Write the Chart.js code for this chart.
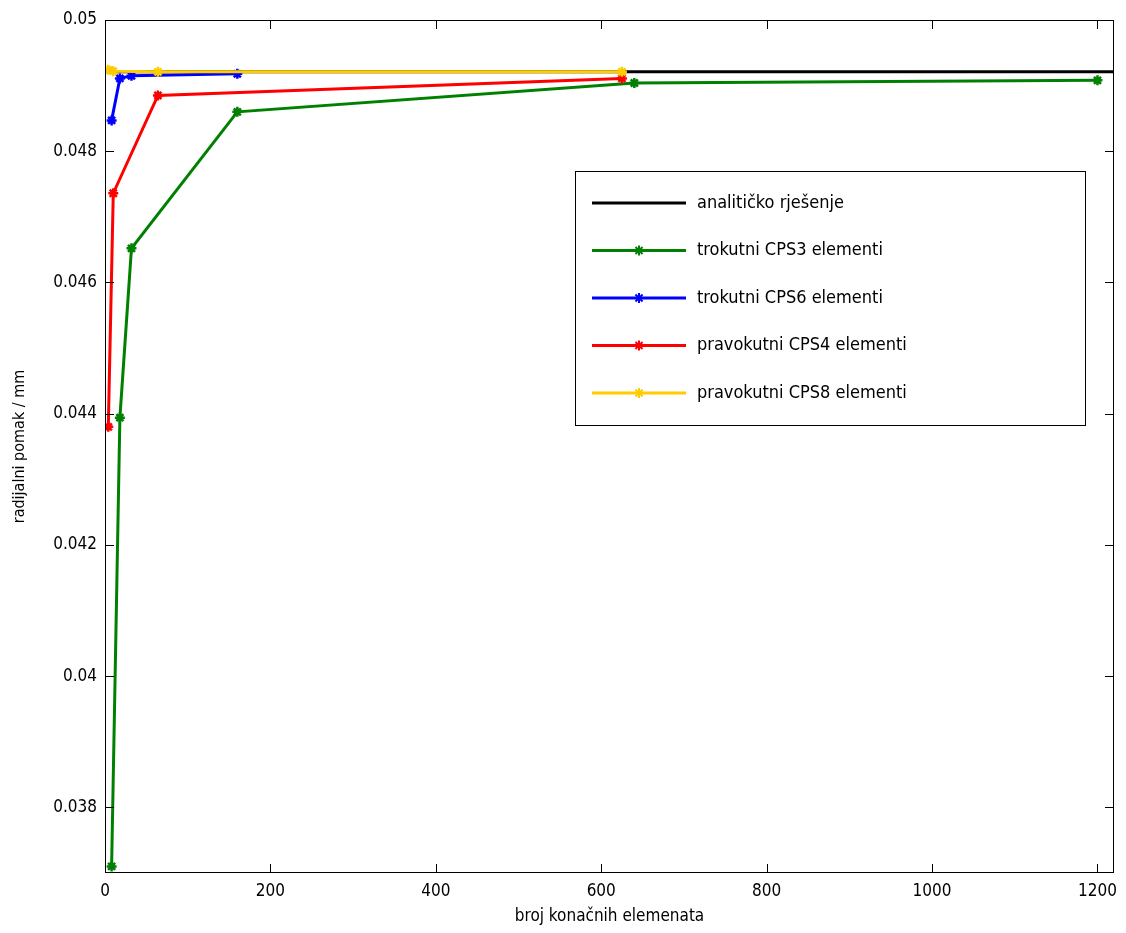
<!DOCTYPE html>
<html>
<head>
<meta charset="utf-8">
<script src="https://cdn.jsdelivr.net/npm/chart.js@4"></script>
<style>
  body { margin: 0; background: #fff; }
  #wrap { width: 1126px; height: 933px; }
</style>
</head>
<body>
<div id="wrap"><canvas id="pomakChart" width="1126" height="933"></canvas></div>
<script>
const FONT = '"Liberation Sans Narrow", "DejaVu Sans Condensed", "Liberation Sans", sans-serif';

// broj elemenata (x) i radijalni pomak (y) za svaku seriju
const analitX = [0, 1220];
const analitY = [0.04921, 0.04921];

const cps3X = [8, 18, 32, 160, 640, 1200];
const cps3Y = [0.0371, 0.04394, 0.04652, 0.04860, 0.04904, 0.04908];

const cps6X = [8, 18, 32, 160];
const cps6Y = [0.04847, 0.04911, 0.04915, 0.04918];

const cps4X = [4, 10, 64, 625];
const cps4Y = [0.0438, 0.04736, 0.04885, 0.04911];

const cps8X = [4, 10, 64, 625];
const cps8Y = [0.04924, 0.04922, 0.04921, 0.04921];

const xTicks = [0, 200, 400, 600, 800, 1000, 1200];
const yTicks = [0.038, 0.04, 0.042, 0.044, 0.046, 0.048, 0.05];

const labels = [
  'analitičko rješenje',
  'trokutni CPS3 elementi',
  'trokutni CPS6 elementi',
  'pravokutni CPS4 elementi',
  'pravokutni CPS8 elementi'
];

function toPoints(xs, ys) {
  return xs.map((x, i) => ({ x: x, y: ys[i] }));
}

function serija(label, xs, ys, color, order, marker) {
  return {
    label: label,
    data: toPoints(xs, ys),
    borderColor: color,
    backgroundColor: color,
    borderWidth: 3,
    pointStyle: marker ? 'star' : false,
    pointRadius: marker ? 5 : 0,
    pointBorderWidth: 2.5,
    pointBorderColor: color,
    tension: 0,
    order: order
  };
}

// okvir osi i kratke crtice prema unutra (kao u MATLAB-u)
const boxPlugin = {
  id: 'boxPlugin',
  afterDatasetsDraw(chart) {
    const { ctx, chartArea: a, scales } = chart;
    ctx.save();
    ctx.strokeStyle = '#000';
    ctx.lineWidth = 1;
    ctx.strokeRect(a.left + 0.5, a.top + 0.5, a.right - a.left - 1, a.bottom - a.top - 1);
    const len = 9;
    ctx.beginPath();
    xTicks.forEach(v => {
      const px = Math.round(scales.x.getPixelForValue(v)) + 0.5;
      ctx.moveTo(px, a.bottom); ctx.lineTo(px, a.bottom - len);
      ctx.moveTo(px, a.top); ctx.lineTo(px, a.top + len);
    });
    yTicks.forEach(v => {
      const py = Math.round(scales.y.getPixelForValue(v)) + 0.5;
      ctx.moveTo(a.left, py); ctx.lineTo(a.left + len, py);
      ctx.moveTo(a.right, py); ctx.lineTo(a.right - len, py);
    });
    ctx.stroke();
    ctx.restore();
  }
};

// legenda unutar grafa
const legendBox = {
  id: 'legendBox',
  afterDraw(chart) {
    const ctx = chart.ctx;
    const L = 575, T = 171, W = 510, H = 254;
    ctx.save();
    ctx.fillStyle = '#fff';
    ctx.fillRect(L, T, W, H);
    ctx.strokeStyle = '#000';
    ctx.lineWidth = 1;
    ctx.strokeRect(L + 0.5, T + 0.5, W, H);
    ctx.font = '18px ' + FONT;
    ctx.textBaseline = 'middle';
    chart.data.datasets.forEach((ds, i) => {
      const y = T + 32 + i * 47.5;
      ctx.strokeStyle = ds.borderColor;
      ctx.lineWidth = 3;
      ctx.beginPath();
      ctx.moveTo(592, y); ctx.lineTo(686, y);
      ctx.stroke();
      if (ds.pointStyle) {
        ctx.lineWidth = 2;
        Chart.helpers.drawPoint(ctx, {
          pointStyle: 'star', radius: 5, borderWidth: 2
        }, 639, y);
      }
      ctx.fillStyle = '#000';
      ctx.fillText(ds.label, 697, y);
    });
    ctx.restore();
  }
};

const ctx = document.getElementById('pomakChart').getContext('2d');

new Chart(ctx, {
  type: 'line',
  data: {
    datasets: [
      serija(labels[0], analitX, analitY, '#000000', 5, false),
      serija(labels[1], cps3X, cps3Y, '#008000', 4, true),
      serija(labels[2], cps6X, cps6Y, '#0000ff', 3, true),
      serija(labels[3], cps4X, cps4Y, '#ff0000', 2, true),
      serija(labels[4], cps8X, cps8Y, '#ffcc00', 1, true)
    ]
  },
  options: {
    responsive: false,
    animation: false,
    layout: { padding: { top: 20, right: 12, left: 0, bottom: 0 } },
    plugins: {
      legend: { display: false },
      tooltip: { enabled: false }
    },
    scales: {
      x: {
        type: 'linear',
        min: 0,
        max: 1220,
        afterBuildTicks: s => { s.ticks = xTicks.map(v => ({ value: v })); },
        afterFit: s => { s.height = 60; },
        grid: { display: false },
        border: { display: false },
        ticks: {
          color: '#000',
          font: { family: FONT, size: 17 },
          padding: 0,
          maxRotation: 0,
          callback: v => String(v)
        },
        title: {
          display: true,
          text: 'broj konačnih elemenata',
          color: '#000',
          font: { family: FONT, size: 17 },
          padding: { top: 0, bottom: 6 }
        }
      },
      y: {
        type: 'linear',
        min: 0.037,
        max: 0.05,
        afterBuildTicks: s => { s.ticks = yTicks.map(v => ({ value: v })); },
        afterFit: s => { s.width = 105; },
        grid: { display: false },
        border: { display: false },
        ticks: {
          color: '#000',
          font: { family: FONT, size: 17 },
          padding: 0,
          callback: v => Number(v.toFixed(3)).toString()
        },
        title: {
          display: true,
          text: 'radijalni pomak / mm',
          color: '#000',
          font: { family: FONT, size: 16 },
          padding: { top: 10, bottom: 0 }
        }
      }
    }
  },
  plugins: [boxPlugin, legendBox]
});
</script>
</body>
</html>
